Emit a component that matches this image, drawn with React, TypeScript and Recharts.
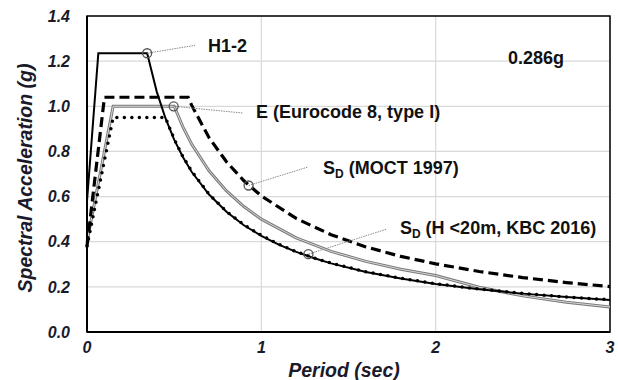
import React from "react"
import {
  LineChart,
  Line,
  XAxis,
  YAxis,
  CartesianGrid,
  ReferenceArea,
  ReferenceDot,
  ReferenceLine,
} from "recharts"

// H1-2 (solid black)
const h12Period = [0, 0.065, 0.345, 0.4, 0.45, 0.5, 0.55, 0.6, 0.7, 0.8, 0.9, 1.0, 1.1, 1.2, 1.3, 1.4, 1.6, 1.8, 2.0, 2.25, 2.5, 2.75, 3.0]
const h12Accel = [0.58, 1.235, 1.235, 1.065, 0.947, 0.852, 0.775, 0.71, 0.609, 0.533, 0.473, 0.426, 0.387, 0.355, 0.328, 0.304, 0.266, 0.237, 0.213, 0.189, 0.17, 0.155, 0.142]

// E (Eurocode 8, type I) (grey)
const ecPeriod = [0, 0.15, 0.5, 0.55, 0.6, 0.7, 0.8, 0.9, 1.0, 1.2, 1.4, 1.6, 1.8, 2.0, 2.25, 2.5, 2.75, 3.0]
const ecAccel = [0.4, 1.0, 1.0, 0.909, 0.833, 0.714, 0.625, 0.556, 0.5, 0.417, 0.357, 0.313, 0.278, 0.25, 0.198, 0.16, 0.132, 0.111]

// SD MOCT 1997 (dashed)
const moctPeriod = [0, 0.1, 0.58, 0.6, 0.7, 0.8, 0.9, 1.0, 1.2, 1.4, 1.6, 1.8, 2.0, 2.25, 2.5, 2.75, 3.0]
const moctAccel = [0.38, 1.04, 1.04, 1.005, 0.861, 0.754, 0.67, 0.603, 0.503, 0.431, 0.377, 0.335, 0.302, 0.268, 0.241, 0.219, 0.201]

// SD H<20m KBC 2016 (dotted)
const kbcPeriod = [0, 0.15, 0.45, 0.5, 0.55, 0.6, 0.7, 0.8, 0.9, 1.0, 1.1, 1.2, 1.3, 1.4, 1.6, 1.8, 2.0, 2.25, 2.5, 2.75, 3.0]
const kbcAccel = [0.38, 0.95, 0.95, 0.855, 0.777, 0.713, 0.611, 0.534, 0.475, 0.428, 0.389, 0.356, 0.329, 0.305, 0.267, 0.238, 0.214, 0.19, 0.171, 0.155, 0.143]

const xTicks = [0, 1, 2, 3]
const yTicks = [0, 0.2, 0.4, 0.6, 0.8, 1.0, 1.2, 1.4]

// annotation: circle point, leader end, label anchor
const notes = [
  { px: 0.345, py: 1.235, ex: 0.62, ey: 1.27, lx: 0.694, ly: 1.27, main: "H1-2", sub: "", rest: "" },
  { px: 0.497, py: 1.0, ex: 0.895, ey: 0.97, lx: 0.97, ly: 0.975, main: "E (Eurocode 8, type I)", sub: "", rest: "" },
  { px: 0.927, py: 0.649, ex: 1.268, ey: 0.731, lx: 1.354, ly: 0.731, main: "S", sub: "D", rest: " (MOCT 1997)" },
  { px: 1.27, py: 0.345, ex: 1.721, ey: 0.456, lx: 1.795, ly: 0.461, main: "S", sub: "D", rest: " (H <20m, KBC 2016)" },
]

const pga = { x: 2.415, y: 1.218, text: "0.286g" }

const toRows = (ts: number[], vs: number[]) => ts.map((t, i) => ({ t, a: vs[i] }))

const font = "'Liberation Sans', Arial, sans-serif"
const tickStyle = { fill: "#1a1a2a", fontSize: 16, fontWeight: 700, fontStyle: "italic", fontFamily: font }

export default function App() {
  return (
    <div style={{ position: "absolute", left: 0, top: 0, width: 618, height: 380, background: "#fff" }}>
      <LineChart width={618} height={380} margin={{ top: 16, right: 8, bottom: 0, left: 0 }}>
        <CartesianGrid stroke="#d9d9d9" strokeWidth={1.2} />
        <XAxis
          type="number"
          dataKey="t"
          domain={[0, 3]}
          ticks={xTicks}
          height={48}
          tickLine={false}
          tickMargin={4}
          axisLine={{ stroke: "#000", strokeWidth: 2 }}
          tick={tickStyle}
          label={{
            content: () => (
              <text x={344} y={377} textAnchor="middle" fontFamily={font} fontSize={19.5} fontWeight={700} fontStyle="italic" fill="#1a1a2a">
                Period (sec)
              </text>
            ),
          }}
        />
        <YAxis
          type="number"
          domain={[0, 1.4]}
          ticks={yTicks}
          width={87}
          tickLine={false}
          tickMargin={11}
          axisLine={{ stroke: "#000", strokeWidth: 2 }}
          tick={tickStyle}
          tickFormatter={(v: number) => v.toFixed(1)}
          label={{
            content: () => (
              <text x={32} y={178} transform="rotate(-90 32 178)" textAnchor="middle" fontFamily={font} fontSize={19.5} fontWeight={700} fontStyle="italic" fill="#1a1a2a">
                Spectral Acceleration (g)
              </text>
            ),
          }}
        />
        <ReferenceArea x1={0} x2={3} y1={0} y2={1.4} fill="none" stroke="#000" strokeWidth={1.5} ifOverflow="visible" />

        <Line data={toRows(ecPeriod, ecAccel)} dataKey="a" type="linear" stroke="#7a7a7a" strokeWidth={3} dot={false} isAnimationActive={false} />
        <Line data={toRows(ecPeriod, ecAccel)} dataKey="a" type="linear" stroke="#d8d8d8" strokeWidth={1} dot={false} isAnimationActive={false} />
        <Line data={toRows(moctPeriod, moctAccel)} dataKey="a" type="linear" stroke="#000" strokeWidth={3.2} strokeDasharray="10 5" dot={false} isAnimationActive={false} />
        <Line data={toRows(h12Period, h12Accel)} dataKey="a" type="linear" stroke="#000" strokeWidth={2} dot={false} isAnimationActive={false} />
        <Line data={toRows(kbcPeriod, kbcAccel)} dataKey="a" type="linear" stroke="#000" strokeWidth={3.5} strokeDasharray="0 7.5" strokeLinecap="round" dot={false} isAnimationActive={false} />

        {notes.map((n, i) => (
          <ReferenceLine
            key={`lead-${i}`}
            segment={[{ x: n.px, y: n.py }, { x: n.ex, y: n.ey }]}
            stroke="#8a8a8a"
            strokeWidth={1}
            strokeDasharray="1.5 1"
            ifOverflow="visible"
          />
        ))}
        {notes.map((n, i) => (
          <ReferenceDot key={`dot-${i}`} x={n.px} y={n.py} r={4.5} fill="none" stroke="#555" strokeWidth={1.3} ifOverflow="visible" />
        ))}
        {notes.map((n, i) => (
          <ReferenceDot
            key={`lab-${i}`}
            x={n.lx}
            y={n.ly}
            r={0}
            ifOverflow="visible"
            shape={(p: any) => (
              <text x={p.cx} y={p.cy} dy={6.5} fontFamily={font} fontSize={18} fontWeight={700} fill="#111">
                {n.main}
                {n.sub && (
                  <tspan fontSize={12} dy={4}>
                    {n.sub}
                  </tspan>
                )}
                {n.rest && <tspan dy={n.sub ? -4 : 0}>{n.rest}</tspan>}
              </text>
            )}
          />
        ))}
        <ReferenceDot
          x={pga.x}
          y={pga.y}
          r={0}
          ifOverflow="visible"
          shape={(p: any) => (
            <text x={p.cx} y={p.cy} dy={6.5} fontFamily={font} fontSize={18} fontWeight={700} fill="#111">
              {pga.text}
            </text>
          )}
        />
      </LineChart>
    </div>
  )
}
